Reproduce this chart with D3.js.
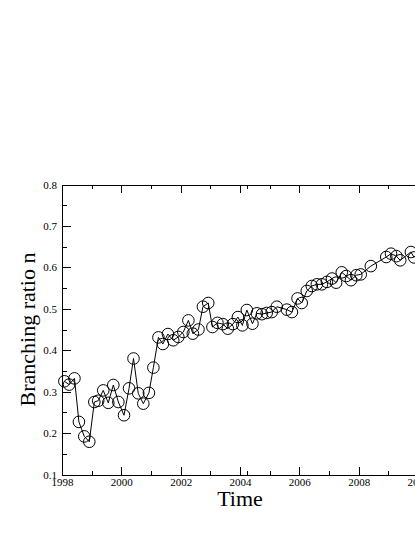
<!DOCTYPE html>
<html>
<head>
<meta charset="utf-8">
<script src="https://cdn.jsdelivr.net/npm/d3@7"></script>
<style>
  html, body { margin: 0; padding: 0; background: #fff; }
  svg { display: block; }
  text { font-family: "Liberation Serif", "Times New Roman", serif; fill: #000; }
</style>
</head>
<body>
<svg id="chart" width="415" height="537"></svg>
<script>
// ---- data ----
const times = [
  1998.08, 1998.24, 1998.42, 1998.57, 1998.75, 1998.92, 1999.09, 1999.22, 1999.39, 1999.56,
  1999.73, 1999.90, 2000.09, 2000.26, 2000.41, 2000.57, 2000.74, 2000.93, 2001.08, 2001.25,
  2001.40, 2001.57, 2001.75, 2001.92, 2002.09, 2002.26, 2002.41, 2002.60, 2002.75, 2002.93,
  2003.07, 2003.24, 2003.42, 2003.59, 2003.76, 2003.93, 2004.08, 2004.23, 2004.42, 2004.57,
  2004.74, 2004.90, 2005.07, 2005.24, 2005.58, 2005.75, 2005.94, 2006.08, 2006.25, 2006.42,
  2006.59, 2006.76, 2006.93, 2007.10, 2007.24, 2007.43, 2007.58, 2007.74, 2007.92, 2008.07,
  2008.41, 2008.93, 2009.09, 2009.27, 2009.40, 2009.76, 2009.87
];
const ratios = [
  0.325, 0.317, 0.332, 0.227, 0.192, 0.179, 0.275, 0.278, 0.303, 0.273,
  0.316, 0.275, 0.243, 0.308, 0.380, 0.296, 0.271, 0.297, 0.358, 0.431,
  0.415, 0.439, 0.424, 0.432, 0.444, 0.472, 0.440, 0.450, 0.505, 0.514,
  0.456, 0.466, 0.463, 0.452, 0.463, 0.480, 0.460, 0.497, 0.464, 0.489,
  0.487, 0.490, 0.492, 0.505, 0.498, 0.492, 0.525, 0.514, 0.543, 0.555,
  0.559, 0.559, 0.565, 0.573, 0.563, 0.588, 0.579, 0.569, 0.581, 0.583,
  0.603, 0.625, 0.633, 0.627, 0.617, 0.637, 0.624
];
const xMajorTicks = [1998, 2000, 2002, 2004, 2006, 2008, 2010];
const xMinorTicks = [1999, 2001, 2003, 2004.25, 2005, 2007, 2009];
const yMajorTicks = [0.1, 0.2, 0.3, 0.4, 0.5, 0.6, 0.7, 0.8];
const yMinorTicks = [0.15, 0.25, 0.35, 0.45, 0.55, 0.65, 0.75];
const xTitle = "Time";
const yTitle = "Branching ratio n";

// ---- layout ----
const svg = d3.select("#chart");
const mLeft = 62, mRight = 418, mTop = 184.5, mBottom = 474.5;
const serif = "Liberation Serif, Times New Roman, serif";

const x = d3.scaleLinear().domain([1998, 2010]).range([mLeft, mRight]);
const y = d3.scaleLinear().domain([0.1, 0.8]).range([mBottom, mTop]);

const axisColor = "#000";

function styleAxis(g) {
  g.attr("font-family", serif).attr("font-size", 11);
  g.selectAll(".domain").attr("stroke", axisColor).attr("stroke-width", 1);
  g.selectAll(".tick line").attr("stroke", axisColor).attr("stroke-width", 1);
  g.selectAll("text").attr("font-family", serif).attr("font-size", 11).attr("fill", "#000");
  g.selectAll("path, line").attr("shape-rendering", "crispEdges");
}

// bottom axis
svg.append("g").attr("transform", `translate(0,${mBottom})`)
  .call(d3.axisBottom(x).tickValues(xMajorTicks).tickSize(-8).tickSizeOuter(0).tickPadding(4).tickFormat(d3.format("d")))
  .call(styleAxis);
svg.append("g").attr("transform", `translate(0,${mBottom})`)
  .call(d3.axisBottom(x).tickValues(xMinorTicks).tickSize(-4).tickSizeOuter(0).tickFormat(""))
  .call(styleAxis).call(g => g.select(".domain").remove());

// top axis
svg.append("g").attr("transform", `translate(0,${mTop})`)
  .call(d3.axisTop(x).tickValues(xMajorTicks).tickSize(-8).tickSizeOuter(0).tickFormat(""))
  .call(styleAxis);
svg.append("g").attr("transform", `translate(0,${mTop})`)
  .call(d3.axisTop(x).tickValues(xMinorTicks).tickSize(-4).tickSizeOuter(0).tickFormat(""))
  .call(styleAxis).call(g => g.select(".domain").remove());

// left axis
svg.append("g").attr("transform", `translate(${mLeft},0)`)
  .call(d3.axisLeft(y).tickValues(yMajorTicks).tickSize(-9).tickSizeOuter(0).tickPadding(5).tickFormat(d3.format(".1f")))
  .call(styleAxis);
svg.append("g").attr("transform", `translate(${mLeft},0)`)
  .call(d3.axisLeft(y).tickValues(yMinorTicks).tickSize(-5).tickSizeOuter(0).tickFormat(""))
  .call(styleAxis).call(g => g.select(".domain").remove());

// data
const data = times.map((t, i) => ({ t, v: ratios[i] }));

svg.append("path")
  .datum(data)
  .attr("fill", "none")
  .attr("stroke", "#000")
  .attr("stroke-width", 1)
  .attr("d", d3.line().x(d => x(d.t)).y(d => y(d.v)));

svg.append("g").selectAll("circle")
  .data(data)
  .join("circle")
  .attr("cx", d => x(d.t))
  .attr("cy", d => y(d.v))
  .attr("r", 5.8)
  .attr("fill", "none")
  .attr("stroke", "#000")
  .attr("stroke-width", 1);

// titles
svg.append("text")
  .attr("x", (mLeft + mRight) / 2)
  .attr("y", 506)
  .attr("text-anchor", "middle")
  .attr("font-family", serif)
  .attr("font-size", 22)
  .text(xTitle);

svg.append("text")
  .attr("transform", `translate(35,${(mTop + mBottom) / 2}) rotate(-90)`)
  .attr("text-anchor", "middle")
  .attr("font-family", serif)
  .attr("font-size", 22)
  .text(yTitle);
</script>
</body>
</html>
